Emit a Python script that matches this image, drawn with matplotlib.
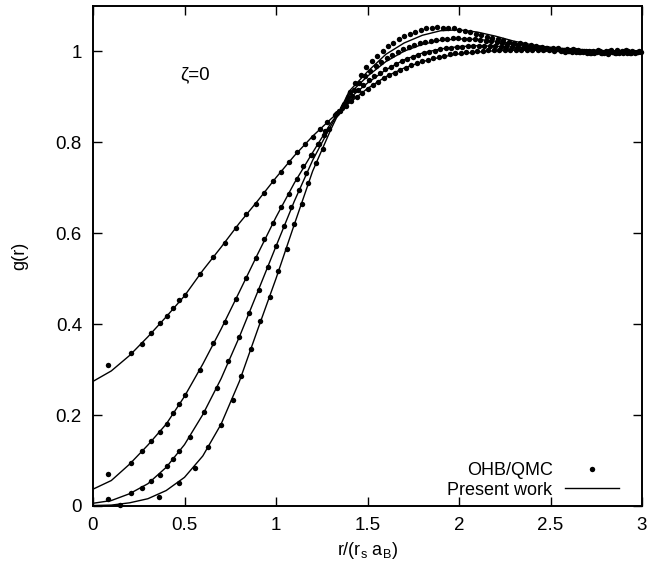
import numpy as np
import matplotlib
matplotlib.use("Agg")
import matplotlib.pyplot as plt
from matplotlib.ticker import FuncFormatter

plt.rcParams['font.family'] = ['Liberation Sans', 'DejaVu Sans']
plt.rcParams['mathtext.fontset'] = 'custom'
plt.rcParams['mathtext.rm'] = 'Liberation Sans'

# ---------------- data ----------------
# "Present work" curves (sampled every 0.1 in r)
r_line = np.round(np.linspace(0.0, 3.0, 31), 2)
line_A = [0.274, 0.297, 0.331, 0.372, 0.416, 0.462, 0.518, 0.569, 0.622, 0.671,
          0.722, 0.770, 0.813, 0.851, 0.886, 0.918, 0.944, 0.963, 0.977, 0.987,
          0.994, 0.998, 1.001, 1.002, 1.002, 1.002, 1.001, 1.001, 1.000, 1.000, 1.000]
line_B = [0.037, 0.056, 0.092, 0.134, 0.180, 0.241, 0.312, 0.389, 0.471, 0.554,
          0.635, 0.710, 0.777, 0.842, 0.896, 0.930, 0.959, 0.981, 0.996, 1.005,
          1.010, 1.012, 1.011, 1.009, 1.007, 1.005, 1.003, 1.002, 1.001, 1.000, 1.000]
line_C = [0.006, 0.012, 0.027, 0.049, 0.085, 0.135, 0.201, 0.280, 0.372, 0.471,
          0.571, 0.670, 0.760, 0.836, 0.906, 0.945, 0.977, 1.000, 1.015, 1.024,
          1.027, 1.026, 1.022, 1.017, 1.012, 1.008, 1.005, 1.003, 1.001, 1.000, 1.000]
line_D = [0.001, 0.002, 0.007, 0.016, 0.034, 0.063, 0.110, 0.180, 0.274, 0.388,
          0.500, 0.619, 0.736, 0.828, 0.912, 0.955, 0.993, 1.018, 1.035, 1.045,
          1.047, 1.042, 1.033, 1.022, 1.014, 1.008, 1.003, 1.000, 0.999, 0.999, 1.000]

# OHB/QMC points, sparse part (r < 1.3)
qmc_rA = [0.084, 0.206, 0.266, 0.318, 0.364, 0.403, 0.436, 0.472, 0.503, 0.585, 0.658, 0.721,
          0.781, 0.836, 0.889, 0.936, 0.984, 1.027, 1.073, 1.117, 1.160, 1.200, 1.240, 1.280]
qmc_gA = [0.309, 0.336, 0.357, 0.381, 0.402, 0.417, 0.435, 0.453, 0.464, 0.511, 0.547, 0.579,
          0.612, 0.643, 0.665, 0.689, 0.714, 0.735, 0.756, 0.778, 0.795, 0.812, 0.830, 0.845]
qmc_rB = [0.084, 0.206, 0.266, 0.319, 0.365, 0.403, 0.437, 0.470, 0.503, 0.585, 0.658, 0.721,
          0.781, 0.836, 0.889, 0.937, 0.985, 1.027, 1.071, 1.113, 1.149, 1.191, 1.231, 1.262]
qmc_gB = [0.070, 0.095, 0.121, 0.142, 0.162, 0.181, 0.204, 0.225, 0.243, 0.300, 0.358, 0.405,
          0.456, 0.501, 0.545, 0.586, 0.622, 0.658, 0.687, 0.720, 0.747, 0.772, 0.795, 0.816]
qmc_rC = [0.084, 0.206, 0.266, 0.319, 0.365, 0.403, 0.437, 0.470, 0.530, 0.607, 0.676, 0.740,
          0.800, 0.854, 0.905, 0.954, 1.000, 1.044, 1.084, 1.126, 1.164, 1.195, 1.233, 1.270]
qmc_gC = [0.0154, 0.028, 0.040, 0.054, 0.068, 0.087, 0.103, 0.120, 0.151, 0.206, 0.260, 0.318,
          0.372, 0.424, 0.476, 0.525, 0.571, 0.615, 0.658, 0.695, 0.733, 0.772, 0.797, 0.825]
qmc_rD = [0.148, 0.361, 0.468, 0.557, 0.630, 0.698, 0.763, 0.810, 0.865, 0.915,
          0.967, 1.013, 1.058, 1.100, 1.140, 1.177, 1.217, 1.255, 1.290]
qmc_gD = [0.0015, 0.0205, 0.050, 0.084, 0.129, 0.178, 0.232, 0.286, 0.345, 0.407,
          0.459, 0.516, 0.565, 0.619, 0.665, 0.711, 0.755, 0.786, 0.830]

# OHB/QMC points, dense part (56 points each, step 0.03, grids staggered per curve)
r_dense_A = np.round(np.linspace(1.320, 2.970, 56), 3)
r_dense_B = np.round(np.linspace(1.328, 2.978, 56), 3)
r_dense_C = np.round(np.linspace(1.335, 2.985, 56), 3)
r_dense_D = np.round(np.linspace(1.342, 2.992, 56), 3)
dense_A = [0.859, 0.869, 0.880, 0.890, 0.899, 0.908, 0.917, 0.925,
           0.933, 0.940, 0.947, 0.953, 0.959, 0.964, 0.969, 0.974,
           0.978, 0.981, 0.985, 0.988, 0.990, 0.993, 0.995, 0.997,
           0.998, 0.999, 1.000, 1.001, 1.002, 1.002, 1.003, 1.003,
           1.003, 1.003, 1.003, 1.003, 1.002, 1.003, 1.002, 1.002,
           1.001, 1.003, 0.999, 1.002, 0.998, 1.001, 0.997, 1.000,
           1.002, 0.997, 1.001, 0.996, 0.999, 1.002, 0.997, 0.999]
dense_B = [0.861, 0.874, 0.890, 0.902, 0.914, 0.926, 0.936, 0.945,
           0.953, 0.960, 0.966, 0.972, 0.978, 0.983, 0.988, 0.992,
           0.995, 0.998, 1.001, 1.004, 1.006, 1.008, 1.009, 1.010,
           1.011, 1.012, 1.012, 1.012, 1.011, 1.011, 1.010, 1.010,
           1.009, 1.008, 1.008, 1.007, 1.006, 1.006, 1.005, 1.004,
           1.004, 1.001, 1.004, 0.999, 1.002, 0.998, 1.001, 0.996,
           1.000, 0.998, 1.002, 0.997, 1.000, 0.996, 1.001, 0.998]
dense_C = [0.864, 0.880, 0.899, 0.915, 0.930, 0.945, 0.957, 0.967,
           0.976, 0.985, 0.992, 0.999, 1.004, 1.009, 1.013, 1.017,
           1.020, 1.022, 1.024, 1.026, 1.027, 1.028, 1.028, 1.027,
           1.027, 1.026, 1.025, 1.023, 1.022, 1.020, 1.018, 1.016,
           1.015, 1.013, 1.011, 1.010, 1.009, 1.007, 1.006, 1.005,
           1.005, 1.002, 1.000, 1.004, 0.999, 1.001, 0.997, 0.999,
           0.996, 1.001, 0.998, 1.002, 0.996, 1.000, 0.998, 1.001]
dense_D = [0.868, 0.884, 0.910, 0.929, 0.947, 0.965, 0.978, 0.990,
           1.001, 1.011, 1.019, 1.027, 1.033, 1.038, 1.043, 1.047,
           1.050, 1.052, 1.053, 1.052, 1.051, 1.050, 1.047, 1.044,
           1.042, 1.038, 1.036, 1.032, 1.029, 1.026, 1.024, 1.021,
           1.019, 1.017, 1.015, 1.013, 1.011, 1.009, 1.008, 1.006,
           1.006, 1.003, 1.001, 1.003, 0.998, 1.000, 0.996, 0.999,
           0.997, 0.994, 0.999, 0.996, 1.000, 0.997, 0.995, 0.999]

x_ticks = [0, 0.5, 1, 1.5, 2, 2.5, 3]
y_ticks = [0, 0.2, 0.4, 0.6, 0.8, 1]

# ---------------- plot ----------------
fig = plt.figure(figsize=(6.47, 5.68), dpi=100)
ax = fig.add_axes([93/647, 1-506/568, (642-93)/647, (506-5.7)/568])

lines = [line_A, line_B, line_C, line_D]
sparse = [(qmc_rA, qmc_gA), (qmc_rB, qmc_gB), (qmc_rC, qmc_gC), (qmc_rD, qmc_gD)]
dense = [(r_dense_A, dense_A), (r_dense_B, dense_B), (r_dense_C, dense_C), (r_dense_D, dense_D)]

for i in range(4):
    r_pts = list(sparse[i][0]) + list(dense[i][0])
    g_pts = list(sparse[i][1]) + list(dense[i][1])
    ax.plot(r_pts, g_pts, linestyle='none', marker='o', ms=3.9, mfc='black', mec='black',
            mew=0, color='black', label='OHB/QMC' if i == 0 else None, zorder=3,
            clip_on=False)
    ax.plot(r_line, lines[i], color='black', lw=1.0,
            label='Present work' if i == 0 else None, zorder=2)

ax.set_xlim(0, 3)
ax.set_ylim(0, 1.1)
ax.set_xticks(x_ticks)
ax.set_yticks(y_ticks)
fmt = FuncFormatter(lambda v, p: '%g' % v)
ax.xaxis.set_major_formatter(fmt)
ax.yaxis.set_major_formatter(fmt)
ax.tick_params(direction='in', length=6.5, width=1.0, top=True, right=True,
               labelsize=13.5, pad=8)
for s in ax.spines.values():
    s.set_linewidth(1.4)

ax.set_xlabel(r'r/(r$_\mathregular{s}$ a$_\mathregular{B}$)', fontsize=13, labelpad=4)
ax.set_ylabel('g(r)', fontsize=13, labelpad=20)

ax.text(0.475, 0.947, 'ζ=0', fontsize=13.5, ha='left', va='center')

leg = ax.legend(loc='lower right', frameon=False, markerfirst=False, fontsize=13,
                handlelength=3.0, handletextpad=0.7, borderaxespad=0.0,
                labelspacing=0.15, bbox_to_anchor=(0.972, 0.0))

fig.savefig('out.png', dpi=100)
